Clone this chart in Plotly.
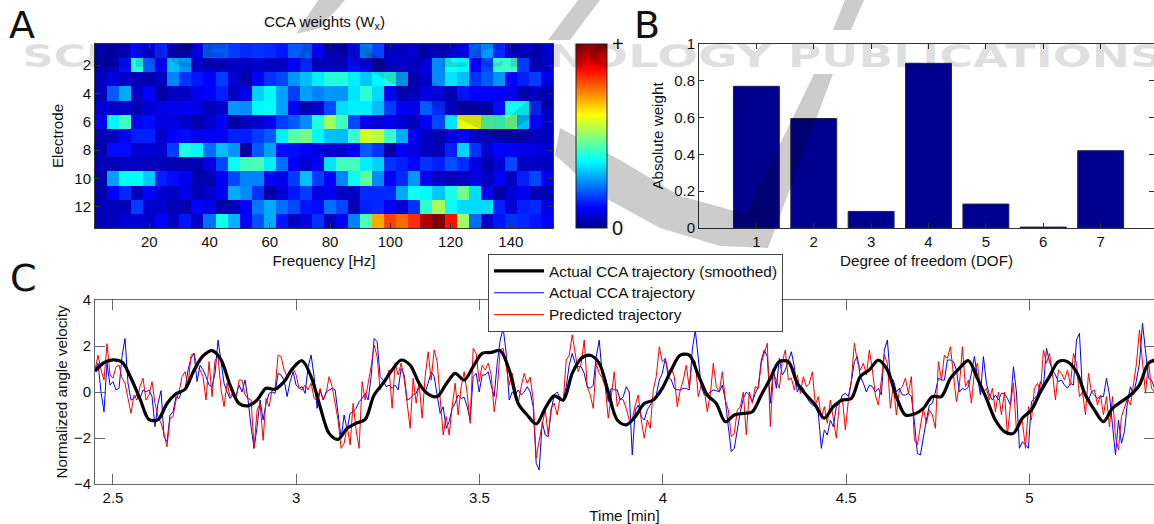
import numpy as np
import plotly.graph_objects as go

W, H = 1154, 524

# ---------- Panel A ----------
freqs = list(range(4, 156, 4))
electrodes = list(range(1, 14))
w1 = [.03,.03,.05,.12,.07,.15,.04,.02,.08,.2,.2,.17,.15,.16,.15,.13,.2,.2,.1,.05,.05,.12,.24,.18,.05,.05,.07,.04,.04,.08,.1,.2,.26,.15,.07,.05,.05,.06]
w2 = [.02,.04,.12,.4,.2,.11,.3,.26,.06,.05,.05,.05,.05,.06,.05,.05,.1,.15,.05,.05,.05,.12,.1,.02,.06,.06,.05,.08,.25,.38,.36,.11,.18,.42,.42,.17,.05,.05]
w3 = [.05,.08,.05,.04,.03,.05,.24,.16,.13,.11,.17,.07,.03,.11,.16,.18,.26,.3,.35,.4,.4,.35,.31,.36,.4,.27,.05,.07,.25,.34,.3,.16,.2,.26,.11,.14,.17,.09]
w4 = [.04,.2,.28,.05,.11,.02,.05,.05,.09,.11,.14,.05,.09,.32,.36,.27,.17,.27,.24,.26,.26,.34,.41,.33,.1,.03,.06,.11,.1,.05,.13,.11,.11,.1,.09,.03,.06,.06]
w5 = [.07,.06,.06,.04,.07,.08,.09,.1,.08,.04,.06,.26,.25,.36,.37,.27,.1,.03,.06,.18,.33,.35,.35,.3,.17,.1,.09,.2,.15,.07,.03,.03,.03,.12,.38,.37,.15,.05]
w6 = [.1,.36,.43,.1,.12,.08,.08,.06,.03,.06,.1,.02,.05,.06,.09,.17,.2,.25,.4,.52,.43,.18,.09,.07,.09,.07,.04,.1,.18,.34,.6,.6,.45,.43,.48,.3,.1,.05]
w7 = [.03,.05,.1,.14,.14,.06,.11,.12,.09,.1,.1,.14,.14,.17,.2,.35,.45,.48,.36,.3,.3,.42,.57,.55,.42,.28,.1,.05,.03,.08,.11,.05,.04,.03,.02,.02,.04,.05]
w8 = [.03,.12,.12,.06,.07,.06,.17,.39,.36,.22,.3,.26,.02,.2,.27,.12,.12,.11,.08,.06,.06,.1,.2,.16,.02,.1,.08,.05,.04,.14,.32,.16,.07,.11,.1,.09,.08,.07]
w9 = [.04,.04,.05,.05,.04,.04,.03,.03,.03,.08,.18,.37,.43,.44,.35,.22,.1,.06,.1,.34,.43,.43,.35,.32,.16,.14,.11,.16,.14,.19,.15,.08,.03,.07,.18,.05,.05,.05]
w10 = [.03,.27,.37,.37,.31,.14,.12,.09,.03,.03,.1,.18,.24,.24,.1,.09,.17,.3,.17,.11,.24,.37,.46,.25,.1,.15,.26,.1,.05,.04,.05,.08,.05,.1,.05,.14,.18,.1]
w11 = [.03,.11,.15,.04,.11,.06,.05,.09,.04,.06,.1,.28,.25,.16,.02,.07,.13,.17,.08,.1,.05,.05,.15,.15,.15,.28,.38,.36,.31,.39,.48,.33,.09,.02,.07,.1,.04,.04]
w12 = [.04,.04,.04,.17,.06,.06,.04,.03,.1,.08,.02,.04,.1,.23,.28,.22,.18,.13,.12,.22,.18,.04,.14,.15,.1,.06,.16,.41,.53,.37,.33,.33,.33,.14,.07,.14,.15,.08]
w13 = [.04,.05,.07,.07,.06,.11,.05,.13,.05,.22,.38,.29,.11,.19,.28,.13,.05,.08,.16,.05,.1,.24,.44,.7,.8,.76,.82,.95,1.0,.85,.52,.22,.05,.13,.16,.15,.13,.1]
weights = [w1, w2, w3, w4, w5, w6, w7, w8, w9, w10, w11, w12, w13]

# ---------- Panel B ----------
dof = [1, 2, 3, 4, 5, 6, 7]
abs_weight = [0.77, 0.595, 0.09, 0.895, 0.13, 0.005, 0.42]

# ---------- Panel C ----------
smoothed = [.9,1.28,1.4,1.3,.6,-.3,-1.2,-1.2,-.5,-.08,.12,.95,1.57,1.8,1.4,.3,-.5,-.6,-.35,.16,.12,.45,1.05,1.36,
 .67,-.64,-1.8,-2.06,-1.58,-1.36,-1.19,-.13,.38,.96,1.39,1.17,.38,-.09,-.2,.35,.81,.52,1.1,1.68,1.72,1.8,.96,-.5,
 -1,-1.39,-.71,-.17,-.35,.81,1.46,1.6,1.25,0,-1.22,-1.43,-1.07,-.5,-.35,.16,.96,1.6,1.6,.74,-.13,-.5,-1.29,
 -1,-.93,-.86,-.13,.59,1.32,1.32,.38,-.13,-.57,-1.14,-.64,-.35,-.28,.67,.96,1.39,.96,-.2,-1,-.96,-.71,-.2,
 -.2,.59,1.03,1.36,.59,-.28,-1.22,-1.72,-1.8,-1.14,-.78,0,.67,1.32,1.32,.88,-.13,-.78,-1.29,-.71,-.42,-.13,.3,1.25,1.42]

actual = [.96,1.25,0,-.86,1.25,.3,.45,.09,.16,1.54,2.33,.38,-.35,-.28,-.13,-.28,.09,0,.09,-.2,-1.51,-.49,.06,-1.94,-2.16,-1,-.86,-.2,-.28,.09,.09,.96,1.46,1.68,.45,1.17,.96,.67,.3,.23,.81,2.26,1.32,.38,0,-.28,-.13,-.13,.3,0,.52,-.35,-1.51,-2.45,-1.51,-.35,-1.22,-.49,-.06,0,-.06,.81,.74,.52,-.2,.45,.88,.3,.16,.23,-.06,1.1,
 1.61,.67,-.71,.09,-.35,0,.09,.16,.09,-1.07,-2.01,-1,-1.65,-.93,-.86,-.71,-.42,-.28,-.06,-.35,.67,2.33,2.19,.67,.52,.23,.3,.16,.3,.09,1.03,.74,-.35,-.28,-.13,-.06,.3,.16,0,.38,.88,.67,-.2,-.93,-.64,-1.58,-1.29,-.71,-.49,-.13,-.28,-.23,-.64,-1.22,.67,.81,0,.74,.74,.88,.3,-.2,1.25,2.26,2.77,1.68,-.35,0,-.13,.09,
 -.13,0,.23,0,-.64,-3.1,-3.39,-1.29,-1.87,-1.94,-.78,-.13,0,-.28,-.35,.23,1.17,1.68,1.25,1.1,1.1,.81,.23,.16,.3,1.54,2.26,.74,.38,-.42,.16,.09,.09,-.35,-.2,.23,0,-2.74,-.78,-.57,-1.07,-1.22,-.78,-.57,-.35,-.13,.52,.81,1.46,.67,.52,.16,.09,.09,.16,.16,.09,1.83,2.7,1.32,.23,-.13,-.13,0,.09,.06,0,.3,-.35,
 -1.51,-2.59,-2.45,-1.65,-.86,-.28,0,-.13,-.42,-.06,.23,1.39,1.83,1.54,-.49,1.03,.16,1.46,.74,.96,1.39,1.75,1.1,0,.3,.16,-.2,-.42,-.57,-.64,-.93,-2.45,-1.65,-1.87,-1.22,-1.51,-.64,-.49,-.13,-.06,-.2,.45,1.32,1.54,.67,.38,0,.3,.23,0,.16,-.13,1.83,2.26,.6,.52,0,.16,-.13,-.13,-.06,-.2,-1.29,-2.67,-2.74,-1.94,-1.22,-.57,-.49,0,.6,.52,
 .52,1.39,1.39,1.32,.96,0,.16,.09,.23,.81,1.54,.67,-.13,1.54,.38,-.13,-.35,-.13,-.35,-.06,-.06,-.28,-.57,1.1,0,-2.45,-2.16,-2.3,-2.45,-.42,-.28,-.13,.45,.23,1.9,1.32,.96,.74,.45,.52,.3,.16,.38,.3,2.26,2.55,0,-.13,-.35,0,-.13,-.28,-.2,-.2,.6,-.13,-1.43,-2.74,-1.22,-2.23,-1.72,-.42,.23,-.13,.52,1.25,2.99,1.83,.6,.52,.16,0]

predicted = [.96,1.6,.96,.52,2.1,.74,.6,1.1,1.17,.6,.38,-.28,-.93,-.13,-.35,.23,.6,-.35,-.13,.45,-.5,-1.07,-1.36,-1.8,-2.38,-1.14,-1.07,-.35,0,.67,.88,.3,1.6,1.68,1.1,.96,.67,-.35,1.32,-.2,1.39,1.54,.09,-.64,.38,-.2,0,-.35,.52,.52,-.13,-.28,-.35,-2.45,-.78,-.5,-2.1,-.28,-.64,.09,.16,1.6,1.54,.96,.67,.81,1.03,.74,.16,.09,.3,.09,
 .38,-.28,-.35,.16,-.35,-.06,.67,.23,-.49,-1.22,-2.45,-2.23,-1.5,-2.3,-.49,-1.65,-2.45,.45,-.35,.3,1.1,2.04,1.54,.09,.45,.6,.96,-.71,1.25,.74,1.25,.6,-.49,-1.58,.6,-.49,.38,-1.14,.67,1.75,.52,1.83,1.32,-.49,-1.87,-1.07,-1.87,-.64,.38,-1,.23,.88,-.06,-1.36,1.9,1.68,.45,1.17,.96,1.25,.74,-.86,.09,1.83,1.9,1.1,.3,.81,.23,-.49,
 .23,.81,.38,.64,-.35,-2.88,-2.09,-1.5,-.78,-1.87,-.71,-.49,-1,-.2,-.42,1.39,1.6,2.48,1.68,.88,1.25,2.26,.23,-.13,-.71,1.25,.81,.6,.23,-1.14,-.2,.88,-.64,-.28,-.35,-.71,-1.22,-1.22,-.57,-.13,-1.22,-2.01,-1.22,-1.58,.09,.67,1.97,1.32,1.46,.88,1.03,.67,-.64,.09,.52,1.17,.16,1.46,1.32,-.2,.3,.09,-.86,-.13,1.25,.23,0,.88,-.35,
 -.78,-1.94,-1.8,-.78,-.64,0,-1.87,0,-.49,.23,.16,1.25,1.75,2.12,-1.5,.81,.52,.16,1.32,1.83,.52,.6,.09,.74,-.06,.67,.23,.38,.88,-.57,-.2,-1.14,-.64,-1.36,-.35,-1.29,-2.01,-.49,-.28,-1.65,-.35,.52,2.12,1.32,.96,1.25,.74,1.83,.96,-.13,-.57,.52,1.6,1.25,-.71,.3,-1,.09,.23,.6,-.06,.67,-2.09,-2.3,-1.5,-.71,-1.36,-.78,-1,-1.58,1.32,
 .52,1.6,1.46,1.97,.67,-.42,.3,1.97,.23,.52,-.49,.88,1.25,.09,-.06,.16,-.35,.16,-.86,0,-1,0,-1.87,-.57,.38,-1.65,-1.22,-1.29,-2.45,-.64,-1.22,.16,.38,0,1.83,1.25,1.68,.81,-.35,.96,.81,.52,.96,.3,1.68,1.25,-.2,0,-1,.81,0,.09,-.57,-.13,-1,-.2,-1.51,-.2,-1.94,-2.52,-1.07,-.64,-.28,-.57,.38,1.25,2.7,1.39,-.06,1.32,.16,0]

# time bases (minutes) of the three traces, from the sampling of the recording
t_start = 2.451
t_smooth = [t_start + i * 0.024563 for i in range(len(smoothed))]
t_actual = [t_start + i * 0.008188 for i in range(len(actual))]
t_pred = [t_start + i * 0.008188 for i in range(len(predicted))]

jet = [[0, "rgb(0,0,143)"], [0.11, "rgb(0,0,255)"], [0.365, "rgb(0,255,255)"],
       [0.615, "rgb(255,255,0)"], [0.865, "rgb(255,0,0)"], [1, "rgb(128,0,0)"]]

FONT = "Liberation Sans, Arial, sans-serif"
AX = "#333333"
px = lambda v: v / W
py = lambda v: 1 - v / H

fig = go.Figure()
fig.add_trace(go.Heatmap(
    x=freqs, y=electrodes, z=weights, colorscale=jet, zmin=0, zmax=1, showlegend=False,
    xaxis="x", yaxis="y", hoverinfo="skip",
    colorbar=dict(x=px(575.5), xanchor="left", xpad=0, ypad=0, y=py(228), yanchor="bottom",
                  len=184 / H, lenmode="fraction", thickness=31, thicknessmode="pixels",
                  tickmode="array", tickvals=[0, 1], ticktext=["0", "+"], ticks="",
                  tickfont=dict(size=20, color="#111", family=FONT),
                  outlinewidth=1, outlinecolor="#222")))
fig.add_trace(go.Bar(x=dof, y=abs_weight, width=0.8, showlegend=False, xaxis="x2", yaxis="y2",
                     marker=dict(color="rgb(0,0,143)", line=dict(color="#222244", width=1))))
fig.add_trace(go.Scatter(x=t_actual, y=actual, mode="lines", name="Actual CCA trajectory", xaxis="x3", yaxis="y3",
                         line=dict(color="#0000ff", width=1), legendrank=2))
fig.add_trace(go.Scatter(x=t_pred, y=predicted, mode="lines", name="Predicted trajectory", xaxis="x3", yaxis="y3",
                         line=dict(color="#ff0000", width=1), legendrank=3))
fig.add_trace(go.Scatter(x=t_smooth, y=smoothed, mode="lines", name="Actual CCA trajectory (smoothed)", xaxis="x3", yaxis="y3",
                         line=dict(color="#000000", width=3.2, shape="spline", smoothing=0.9), legendrank=1))

common = dict(showgrid=False, zeroline=False, showline=True, linecolor=AX, linewidth=1, mirror="ticks",
              ticks="inside", tickcolor=AX, tickfont=dict(size=15, color="#111", family=FONT))
tf = lambda s, sa: dict(text=s, font=dict(size=15.2, color="#111", family=FONT), standoff=sa)

fig.update_layout(
    width=W, height=H, margin=dict(l=0, r=0, t=0, b=0, autoexpand=False),
    paper_bgcolor="white", plot_bgcolor="white", font=dict(family=FONT, color="#111"),
    xaxis=dict(domain=[px(95), px(553)], range=[2, 154], tickvals=list(range(20, 141, 20)), ticklen=5,
               title=tf("Frequency [Hz]", 6), anchor="y", **common),
    yaxis=dict(domain=[py(228), py(44)], range=[13.5, 0.5], tickvals=list(range(2, 13, 2)), ticklen=5,
               title=tf("Electrode", 6), anchor="x", **common),
    xaxis2=dict(domain=[px(699), 1], range=[0, 7.93], tickvals=dof, ticklen=5,
                title=tf("Degree of freedom (DOF)", 6), anchor="y2", **common),
    yaxis2=dict(domain=[py(228), py(44)], range=[0, 1], tickvals=[0, .2, .4, .6, .8, 1], ticktext=["0", "0.2", "0.4", "0.6", "0.8", "1"], ticklen=5,
                title=tf("Absolute weight", 6), anchor="x2", **common),
    xaxis3=dict(domain=[px(95), 1], range=[2.451, 5.34], tickvals=[2.5, 3, 3.5, 4, 4.5, 5], ticktext=["2.5", "3", "3.5", "4", "4.5", "5"], ticklen=10,
                title=tf("Time [min]", 6), anchor="y3", **{**common, "linecolor": "#666", "tickcolor": "#666"}),
    yaxis3=dict(domain=[py(484), py(300)], range=[-4, 4], tickvals=[-4, -2, 0, 2, 4], ticklen=10,
                title=tf("Normalized angle velocity", 2), anchor="x3", **{**common, "linecolor": "#666", "tickcolor": "#666"}),
    legend=dict(x=px(488), y=py(254), xanchor="left", yanchor="top", bgcolor="white", bordercolor="#444", borderwidth=1,
                font=dict(size=14.5, color="#111", family=FONT), itemwidth=50, tracegroupgap=0, traceorder="normal"),
    showlegend=True,
)

anns = [
    ("A", 7, 25, 38, "DejaVu Sans"), ("B", 632, 25, 38, "DejaVu Sans"), ("C", 8, 278, 38, "DejaVu Sans"),
]
for s, x, y, sz, fam in anns:
    fig.add_annotation(text=s, xref="paper", yref="paper", x=px(x), y=py(y), xanchor="left", yanchor="middle",
                       showarrow=False, font=dict(size=sz, color="#111", family=fam))
fig.add_annotation(text="CCA weights (W<sub>x</sub>)", xref="paper", yref="paper", x=px(324), y=py(23), xanchor="center",
                   yanchor="middle", showarrow=False, font=dict(size=15.2, color="#111", family=FONT))

# publisher watermark laid over the chart
WM = "rgba(0,0,0,0.2)"
WM_TEXT = "rgba(0,0,0,0.13)"
for s, x in [("SCIENCE", 126), ("AND", 335), ("TECHNOLOGY", 589), ("PUBLICATIONS", 975)]:
    fig.add_annotation(text=f"<b>{s}</b>", xref="paper", yref="paper", x=px(x), y=py(56), xanchor="center", yanchor="middle",
                       showarrow=False, font=dict(size=32, color=WM_TEXT, family="DejaVu Sans"))

def wm_path(points):
    return "M " + " L ".join(f"{px(a):.4f},{py(b):.4f}" for a, b in points) + " Z"

swoosh = [
    [(318, 0), (345, 0), (320, 28), (296, 34)],
    [(578, 0), (600, 0), (570, 40), (548, 40)],
    [(845, 0), (864, 0), (851, 30), (833, 30)],
    [(814, 74), (833, 74), (768, 248), (720, 246), (660, 228), (600, 195), (555, 155), (560, 128),
     (620, 160), (680, 196), (746, 214)],
]
for p in swoosh:
    fig.add_shape(type="path", xref="paper", yref="paper", path=wm_path(p), fillcolor=WM, line_width=0, layer="above")
fig.add_shape(type="path", xref="paper", yref="paper", line_width=0, layer="above", fillcolor="rgba(0,0,0,0.12)",
              path=wm_path([(325, 44), (352, 44), (508, 118), (553, 78), (553, 105), (498, 138), (420, 100)]))

post = """
document.body.style.margin='0';document.documentElement.style.overflow='hidden';
function sp(){var m={'SCIENCE':208,'AND':80,'TECHNOLOGY':368,'PUBLICATIONS':375};
document.querySelectorAll('.annotation-text').forEach(function(t){var k=t.textContent;if(m[k]&&!t.dataset.wm){
t.dataset.wm='1';var w=t.getBBox().width;t.style.transformBox='fill-box';t.style.transformOrigin='center';t.style.transform='scaleX('+(m[k]/w)+')';}});
document.querySelectorAll('.legendtext').forEach(function(t){if(!t.dataset.wm){t.dataset.wm='1';t.style.transformBox='fill-box';t.style.transformOrigin='left center';t.style.transform='scaleX(1.06)';}});
document.querySelectorAll('.legend rect.bg').forEach(function(r){r.setAttribute('width','294');});
document.querySelectorAll('clipPath[id^="legend"] rect').forEach(function(r){r.setAttribute('width','294');});}
sp();setTimeout(sp,50);setTimeout(sp,300);
"""
fig.write_html("out.html", post_script=post, config={"displayModeBar": False})
